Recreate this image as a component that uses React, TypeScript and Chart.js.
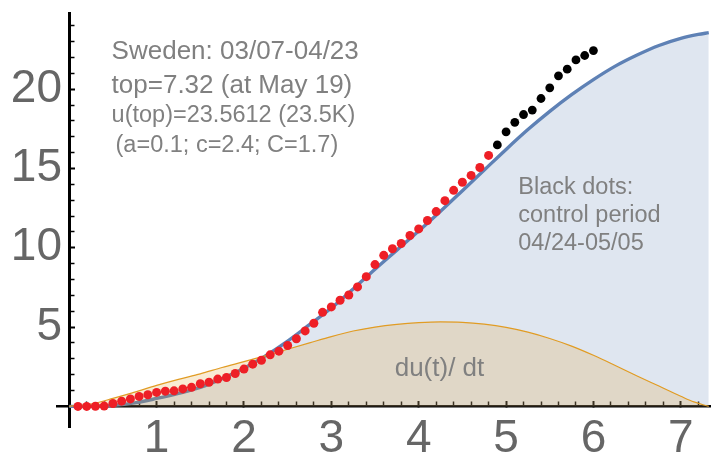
import React, { useEffect, useRef } from 'react';
import { Chart, registerables } from 'chart.js';

Chart.register(...registerables);

// ---- data ----
const redX = [0.1, 0.2, 0.3, 0.4, 0.5, 0.6, 0.7, 0.8, 0.9, 1.0,
  1.1, 1.2, 1.3, 1.4, 1.5, 1.6, 1.7, 1.8, 1.9, 2.0,
  2.1, 2.2, 2.3, 2.4, 2.5, 2.6, 2.7, 2.8, 2.9, 3.0,
  3.1, 3.2, 3.3, 3.4, 3.5, 3.6, 3.7, 3.8, 3.9, 4.0,
  4.1, 4.2, 4.3, 4.4, 4.5, 4.6, 4.7, 4.8];
const redY = [0.00, 0.00, 0.01, 0.02, 0.18, 0.33, 0.47, 0.63, 0.73, 0.88,
  0.96, 0.98, 1.10, 1.20, 1.43, 1.52, 1.72, 1.82, 2.07, 2.35,
  2.66, 2.91, 3.25, 3.48, 3.84, 4.26, 4.76, 5.24, 5.93, 6.27,
  6.69, 7.02, 7.53, 8.18, 8.94, 9.52, 9.94, 10.27, 10.77, 11.19,
  11.72, 12.28, 12.97, 13.62, 14.13, 14.56, 15.06, 15.82];

const blackX = [4.9, 5.0, 5.1, 5.2, 5.3, 5.4, 5.5, 5.6, 5.7, 5.8, 5.9, 6.0];
const blackY = [16.48, 17.31, 17.91, 18.40, 18.68, 19.41, 20.08, 20.84, 21.26, 21.84, 22.12, 22.43];

const uX = [0, 0.25, 0.5, 0.75, 1, 1.25, 1.5, 1.75, 2, 2.25, 2.5, 2.75, 3, 3.25, 3.5, 3.75,
  4, 4.25, 4.5, 4.75, 5, 5.25, 5.5, 5.75, 6, 6.25, 6.5, 6.75, 7, 7.2, 7.32];
const uY = [0, 0.01, 0.06, 0.22, 0.5, 0.82, 1.2, 1.75, 2.4, 3.2, 4.12, 5.15, 6.2, 7.4, 8.65, 9.85,
  11.05, 12.3, 13.6, 14.9, 16.2, 17.45, 18.6, 19.65, 20.6, 21.45, 22.15, 22.75, 23.2, 23.45, 23.56];

const duX = [0, 0.25, 0.5, 0.75, 1, 1.25, 1.5, 1.75, 2, 2.25, 2.5, 2.75, 3, 3.25, 3.5, 3.75,
  4, 4.25, 4.5, 4.75, 5, 5.25, 5.5, 5.75, 6, 6.25, 6.5, 6.75, 7, 7.15, 7.32];
const duY = [0, 0.15, 0.5, 0.9, 1.32, 1.7, 2.05, 2.45, 2.82, 3.2, 3.6, 4.0, 4.4, 4.75, 5.0, 5.17,
  5.28, 5.33, 5.3, 5.18, 4.98, 4.68, 4.28, 3.8, 3.22, 2.58, 1.92, 1.28, 0.64, 0.28, 0];

const xTickValues = [1, 2, 3, 4, 5, 6, 7];
const xTickLabels = ['1', '2', '3', '4', '5', '6', '7'];
const yTickValues = [5, 10, 15, 20];
const yTickLabels = ['5', '10', '15', '20'];
const xMinorTicks = [0.2, 0.4, 0.6, 0.8, 1.2, 1.4, 1.6, 1.8, 2.2, 2.4, 2.6, 2.8, 3.2, 3.4, 3.6, 3.8,
  4.2, 4.4, 4.6, 4.8, 5.2, 5.4, 5.6, 5.8, 6.2, 6.4, 6.6, 6.8, 7.2];
const yMinorTicks = [1, 2, 3, 4, 6, 7, 8, 9, 11, 12, 13, 14, 16, 17, 18, 19, 21, 22, 23, 24];

const infoLines = ['Sweden: 03/07-04/23', 'top=7.32 (at May 19)', 'u(top)=23.5612 (23.5K)', '(a=0.1; c=2.4; C=1.7)'];
const controlLines = ['Black dots:', 'control period', '04/24-05/05'];
const derivLabel = 'du(t)/ dt';

// ---- layout / style ----
const X_MIN = -0.14;
const X_MAX = 7.34;
const Y_MIN = -1.3;
const Y_MAX = 24.8;
const FONT = '"Liberation Sans", Arial, Helvetica, sans-serif';
const TICK_COLOR = 'rgb(102,102,102)';
const NOTE_COLOR = 'rgb(128,128,128)';

// text anchors in data coordinates (left / alphabetic baseline)
const infoPos = [
  { x: 0.485, y: 21.9, size: 26 },
  { x: 0.485, y: 19.76, size: 26 },
  { x: 0.485, y: 17.9, size: 23.5 },
  { x: 0.53, y: 16.05, size: 23.5 },
];
const controlPos = [
  { x: 5.14, y: 13.42, size: 23.5 },
  { x: 5.14, y: 11.62, size: 23.5 },
  { x: 5.14, y: 9.86, size: 23.5 },
];
const derivPos = { x: 3.725, y: 1.915, size: 26 };

const notesPlugin = {
  id: 'notes',
  afterDatasetsDraw(chart: any) {
    const ctx = chart.ctx;
    const sx = chart.scales.x;
    const sy = chart.scales.y;
    ctx.save();
    ctx.fillStyle = NOTE_COLOR;
    ctx.textAlign = 'left';
    ctx.textBaseline = 'alphabetic';
    const put = (t: string, p: { x: number; y: number; size: number }) => {
      ctx.font = `${p.size}px ${FONT}`;
      ctx.fillText(t, sx.getPixelForValue(p.x), sy.getPixelForValue(p.y));
    };
    infoLines.forEach((t, i) => put(t, infoPos[i]));
    controlLines.forEach((t, i) => put(t, controlPos[i]));
    put(derivLabel, derivPos);
    ctx.restore();
  },
};

function xy(xs: number[], ys: number[]) {
  return xs.map((x, i) => ({ x, y: ys[i] }));
}

export default function App() {
  const ref = useRef<HTMLCanvasElement>(null);
  useEffect(() => {
    const canvas = ref.current;
    if (!canvas) return;
    const chart = new Chart(canvas, {
      type: 'line',
      data: {
        datasets: [
          {
            label: 'cases',
            data: xy(redX, redY),
            showLine: false,
            pointRadius: 4.5,
            pointBackgroundColor: '#ee1f26',
            pointBorderWidth: 0,
            order: 0,
          },
          {
            label: 'control',
            data: xy(blackX, blackY),
            showLine: false,
            pointRadius: 4.4,
            pointBackgroundColor: '#000000',
            pointBorderWidth: 0,
            order: 1,
          },
          {
            label: 'du/dt',
            data: xy(duX, duY),
            borderColor: '#e19c24',
            borderWidth: 1.2,
            backgroundColor: 'rgba(225,156,36,0.2)',
            fill: 'origin',
            pointRadius: 0,
            cubicInterpolationMode: 'monotone',
            order: 2,
          },
          {
            label: 'u',
            data: xy(uX, uY),
            borderColor: '#5e81b5',
            borderWidth: 3.4,
            backgroundColor: 'rgba(94,129,181,0.2)',
            fill: 'origin',
            pointRadius: 0,
            cubicInterpolationMode: 'monotone',
            order: 3,
          },
        ],
      } as any,
      options: {
        responsive: false,
        animation: false,
        events: [],
        layout: { padding: { top: 13, bottom: 29, left: 0, right: 0 } },
        plugins: {
          legend: { display: false },
          tooltip: { enabled: false },
          title: { display: false },
        },
        scales: {
          x: {
            type: 'linear',
            min: X_MIN,
            max: X_MAX,
            position: { y: 0 },
            afterBuildTicks: (s: any) => { s.ticks = xTickValues.map((v) => ({ value: v })); },
            ticks: {
              callback: (_v: any, i: number) => xTickLabels[i],
              font: { size: 46, family: FONT },
              color: TICK_COLOR,
              padding: 12,
              maxRotation: 0,
              minRotation: 0,
              autoSkip: false,
            },
            grid: { display: true, drawOnChartArea: false, drawTicks: true, tickLength: -6.5, tickWidth: 2, tickColor: '#000' },
            border: { display: true, color: '#000', width: 2.5 },
          },
          xMinor: {
            type: 'linear',
            axis: 'x',
            min: X_MIN,
            max: X_MAX,
            position: { y: 0 },
            afterBuildTicks: (s: any) => { s.ticks = xMinorTicks.map((v) => ({ value: v })); },
            ticks: { display: false, autoSkip: false },
            grid: { display: true, drawOnChartArea: false, drawTicks: true, tickLength: -4.5, tickWidth: 1.5, tickColor: '#000' },
            border: { display: false },
          },
          y: {
            type: 'linear',
            min: Y_MIN,
            max: Y_MAX,
            position: { x: 0 },
            afterBuildTicks: (s: any) => { s.ticks = yTickValues.map((v) => ({ value: v })); },
            ticks: { display: false, autoSkip: false },
            grid: { display: true, drawOnChartArea: false, drawTicks: true, tickLength: -7, tickWidth: 2, tickColor: '#000' },
            border: { display: true, color: '#000', width: 3 },
          },
          yMinor: {
            type: 'linear',
            axis: 'y',
            min: Y_MIN,
            max: Y_MAX,
            position: { x: 0 },
            afterBuildTicks: (s: any) => { s.ticks = yMinorTicks.map((v) => ({ value: v })); },
            ticks: { display: false, autoSkip: false },
            grid: { display: true, drawOnChartArea: false, drawTicks: true, tickLength: -5.5, tickWidth: 1.5, tickColor: '#000' },
            border: { display: false },
          },
          yl: {
            type: 'linear',
            axis: 'y',
            min: Y_MIN,
            max: Y_MAX,
            position: 'left',
            afterBuildTicks: (s: any) => { s.ticks = yTickValues.map((v) => ({ value: v })); },
            afterFit: (s: any) => { s.width = 57; },
            ticks: {
              callback: (_v: any, i: number) => yTickLabels[i],
              font: { size: 46, family: FONT },
              color: TICK_COLOR,
              mirror: true,
              crossAlign: 'far',
              padding: -46.2,
              autoSkip: false,
            },
            grid: { display: false, drawTicks: false },
            border: { display: false },
          },
        },
      } as any,
      plugins: [notesPlugin],
    });
    return () => chart.destroy();
  }, []);
  return (
    <div style={{ position: 'absolute', left: 0, top: 0, width: 715, height: 456, background: '#fff', overflow: 'hidden' }}>
      <canvas ref={ref} width={715} height={456} style={{ display: 'block', width: 715, height: 456 }} />
    </div>
  );
}
